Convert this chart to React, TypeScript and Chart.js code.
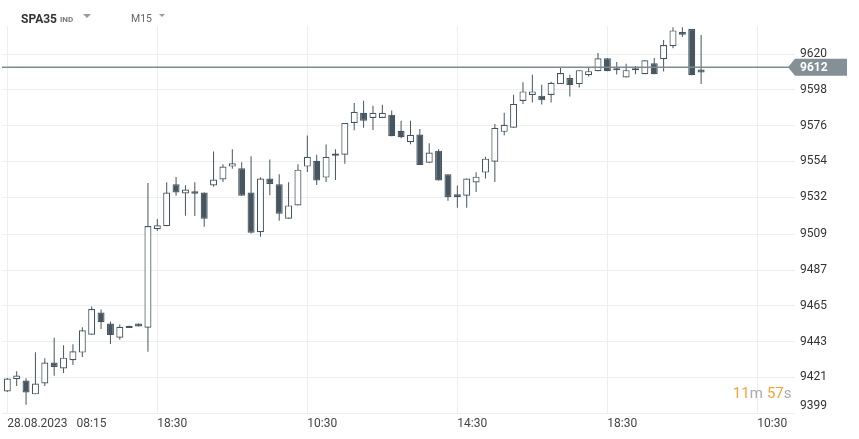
import React, { useEffect, useRef } from "react";
import { Chart, registerables } from "chart.js";

Chart.register(...registerables);

const symbol = "SPA35";
const symbolType = "IND";
const timeframe = "M15";
const countdownMin = "11";
const countdownSec = "57";

const xTickIndices = [0, 16, 32, 48, 64, 80];
const xTickLabels = ["28.08.2023   08:15", "18:30", "10:30", "14:30", "18:30", "10:30"];
const yTickLabels = ["9620", "9598", "9576", "9554", "9532", "9509", "9487", "9465", "9443", "9421", "9399"];

const lastPrice = 9612;

const opens = [
  9412.3, 9419.8, 9419.0, 9410.5, 9417.2, 9430.1, 9426.4, 9431.5, 9436.2, 9447.2,
  9460.9, 9454.1, 9445.4, 9452.7, 9454.1, 9451.5, 9512.2, 9514.0, 9539.9, 9534.2,
  9535.6, 9534.8, 9539.1, 9542.8, 9550.8, 9549.7, 9534.8, 9510.3, 9543.4, 9539.9,
  9518.7, 9526.9, 9550.8, 9554.4, 9544.0, 9558.9, 9558.1, 9577.7, 9583.9, 9580.8,
  9580.8, 9582.8, 9572.8, 9565.8, 9570.6, 9553.2, 9560.6, 9546.0, 9533.8, 9532.8,
  9541.0, 9547.1, 9553.8, 9572.2, 9574.7, 9591.2, 9594.9, 9594.5, 9594.9, 9601.6,
  9605.3, 9601.6, 9607.1, 9609.6, 9617.5, 9611.4, 9605.7, 9610.2, 9607.7, 9614.5,
  9616.9, 9624.9, 9633.7, 9635.5, 9610.6,
];
const highs = [
  9420.5, 9424.7, 9420.4, 9436.4, 9432.7, 9445.4, 9440.7, 9441.3, 9451.9, 9464.6,
  9462.7, 9455.4, 9453.5, 9452.7, 9454.1, 9540.7, 9518.5, 9541.1, 9544.4, 9539.3,
  9541.1, 9534.8, 9560.1, 9552.2, 9561.4, 9553.4, 9557.1, 9544.2, 9555.2, 9546.0,
  9541.1, 9552.2, 9569.9, 9558.1, 9564.4, 9561.4, 9577.7, 9590.0, 9591.4, 9588.3,
  9588.9, 9585.3, 9579.0, 9579.0, 9574.0, 9565.2, 9561.4, 9546.0, 9539.1, 9543.4,
  9547.3, 9556.9, 9577.1, 9583.9, 9595.1, 9602.8, 9607.3, 9601.2, 9603.0, 9612.2,
  9607.3, 9610.2, 9612.2, 9620.8, 9617.5, 9615.3, 9614.1, 9612.8, 9616.3, 9617.7,
  9628.8, 9636.7, 9636.7, 9635.5, 9631.8,
];
const lows = [
  9412.0, 9415.7, 9404.1, 9410.5, 9415.7, 9421.9, 9423.7, 9428.6, 9433.5, 9447.2,
  9450.7, 9441.5, 9444.2, 9451.3, 9452.3, 9436.8, 9511.3, 9514.0, 9532.8, 9520.5,
  9520.3, 9513.8, 9538.3, 9541.3, 9549.5, 9532.8, 9509.5, 9507.6, 9533.2, 9517.4,
  9518.7, 9526.9, 9547.5, 9539.5, 9541.3, 9542.6, 9552.6, 9573.2, 9574.7, 9573.4,
  9580.8, 9569.5, 9568.3, 9564.6, 9551.7, 9553.2, 9542.2, 9529.7, 9525.4, 9525.4,
  9535.2, 9543.4, 9541.3, 9570.1, 9574.7, 9589.4, 9590.3, 9589.1, 9590.3, 9601.6,
  9594.0, 9599.5, 9606.3, 9609.6, 9609.6, 9607.5, 9605.7, 9607.7, 9607.7, 9607.7,
  9609.3, 9623.7, 9630.6, 9607.1, 9601.6,
];
const closes = [
  9420.2, 9422.1, 9411.7, 9417.2, 9430.1, 9427.4, 9433.1, 9437.0, 9449.9, 9463.1,
  9454.9, 9447.0, 9452.1, 9451.3, 9452.3, 9514.2, 9514.6, 9534.8, 9534.8, 9536.7,
  9534.0, 9518.7, 9542.8, 9550.8, 9552.8, 9532.8, 9510.1, 9543.4, 9540.1, 9521.7,
  9526.9, 9548.9, 9556.9, 9542.2, 9556.9, 9557.5, 9577.7, 9584.5, 9579.0, 9583.9,
  9583.9, 9569.5, 9568.9, 9570.4, 9551.7, 9559.5, 9542.2, 9532.1, 9532.1, 9543.4,
  9544.6, 9555.7, 9574.7, 9576.5, 9589.4, 9597.1, 9597.1, 9591.6, 9602.4, 9608.4,
  9601.0, 9610.2, 9609.6, 9617.5, 9609.6, 9610.2, 9610.2, 9611.4, 9616.3, 9607.7,
  9625.7, 9634.7, 9632.0, 9607.1, 9608.7,
];

const DARK = "#46555f";
const GRID = "#eeeeee";
const X_MIN = -0.565;
const X_MAX = 83.48;
const Y_MIN = 9399;
const Y_MAX = 9637.4;

export default function App() {
  const ref = useRef<HTMLCanvasElement>(null);

  useEffect(() => {
    if (!ref.current) return;
    const bodies = opens.map((o, i) => ({ x: i, y: [o, closes[i]] }));
    const wicks = lows.map((l, i) => ({ x: i, y: [l, highs[i]] }));
    const bodyColors = opens.map((o, i) => (closes[i] >= o ? "#ffffff" : DARK));

    const badgePlugin = {
      id: "priceBadge",
      afterDraw(chart: any) {
        const { ctx, chartArea, scales } = chart;
        const y = scales.y.getPixelForValue(lastPrice);
        const tip = chartArea.right - 2;
        const right = chart.width - 12;
        ctx.save();
        ctx.fillStyle = "#858f96";
        ctx.beginPath();
        ctx.moveTo(tip, y);
        ctx.lineTo(tip + 7, y - 8.5);
        ctx.lineTo(right, y - 8.5);
        ctx.lineTo(right, y + 8.5);
        ctx.lineTo(tip + 7, y + 8.5);
        ctx.closePath();
        ctx.fill();
        ctx.fillStyle = "#ffffff";
        ctx.font = "bold 12px Roboto";
        ctx.textBaseline = "middle";
        ctx.textAlign = "left";
        ctx.fillText(String(lastPrice), chartArea.right + 10, y + 0.5);
        ctx.restore();
      },
    };

    const chart = new Chart(ref.current, {
      type: "bar",
      data: {
        datasets: [
          {
            type: "line",
            data: [
              { x: X_MIN, y: lastPrice },
              { x: X_MAX, y: lastPrice },
            ],
            borderColor: "#7f8a90",
            borderWidth: 1.5,
            pointRadius: 0,
            order: -1,
          } as any,
          {
            data: bodies as any,
            backgroundColor: bodyColors,
            borderColor: DARK,
            borderWidth: 1.2,
            borderSkipped: false,
            grouped: false,
            maxBarThickness: 7,
            barPercentage: 1,
            categoryPercentage: 1,
            inflateAmount: 0,
            order: 0,
          } as any,
          {
            data: wicks as any,
            backgroundColor: DARK,
            borderWidth: 0,
            grouped: false,
            maxBarThickness: 1,
            barPercentage: 1,
            categoryPercentage: 1,
            inflateAmount: 0,
            order: 1,
          } as any,
        ],
      },
      options: {
        animation: false,
        responsive: false,
        devicePixelRatio: 1,
        events: [],
        layout: { padding: { left: 2, top: 26, right: 0, bottom: 0 }, autoPadding: false } as any,
        plugins: { legend: { display: false }, tooltip: { enabled: false } },
        scales: {
          x: {
            type: "linear",
            min: X_MIN,
            max: X_MAX,
            offset: false,
            grid: { color: GRID, drawTicks: false, offset: false },
            border: { display: false },
            afterBuildTicks: (s: any) => {
              s.ticks = xTickIndices.map((v) => ({ value: v }));
            },
            afterFit: (s: any) => {
              s.height = 26;
            },
            ticks: {
              autoSkip: false,
              maxRotation: 0,
              align: "start",
              padding: 4,
              color: "#444",
              font: { size: 12, family: "Roboto" },
              callback: (_v: any, i: number) => xTickLabels[i],
            },
          } as any,
          y: {
            type: "linear",
            position: "right",
            min: Y_MIN,
            max: Y_MAX,
            grid: { color: GRID, tickLength: 5, tickColor: GRID },
            border: { display: false },
            afterBuildTicks: (s: any) => {
              s.ticks = yTickLabels.map((t) => ({ value: Number(t) }));
            },
            afterFit: (s: any) => {
              s.width = 69;
            },
            ticks: {
              padding: 5,
              color: "#333",
              font: { size: 12, family: "Roboto" },
              callback: (_v: any, i: number, ticks: any[]) =>
                i === ticks.length - 1 ? [yTickLabels[i], ""] : yTickLabels[i],
            },
          } as any,
        },
      },
      plugins: [badgePlugin],
    });
    return () => chart.destroy();
  }, []);

  return (
    <div
      style={{
        position: "absolute",
        left: 0,
        top: 0,
        width: 859,
        height: 439,
        fontFamily: "Roboto",
        background: "#fff",
        overflow: "hidden",
      }}
    >
      <canvas ref={ref} width={859} height={439} style={{ display: "block" }} />
      <div style={{ position: "absolute", left: 21, top: 12.5, font: "bold 12px/12px Roboto", color: "#333", whiteSpace: "nowrap" }}>
        {symbol}
      </div>
      <div style={{ position: "absolute", left: 60, top: 16, font: "bold 8px/8px Roboto", color: "#777" }}>{symbolType}</div>
      <div
        style={{
          position: "absolute",
          left: 83,
          top: 13.5,
          width: 0,
          height: 0,
          borderLeft: "4px solid transparent",
          borderRight: "4px solid transparent",
          borderTop: "4px solid #999",
        }}
      />
      <div style={{ position: "absolute", left: 131, top: 14, font: "10.5px/10.5px Roboto", color: "#666" }}>{timeframe}</div>
      <div
        style={{
          position: "absolute",
          left: 158.5,
          top: 14,
          width: 0,
          height: 0,
          borderLeft: "3.5px solid transparent",
          borderRight: "3.5px solid transparent",
          borderTop: "3.5px solid #999",
        }}
      />
      <div style={{ position: "absolute", right: 67.5, top: 386, font: "15px/15px Roboto", whiteSpace: "nowrap" }}>
        <span style={{ color: "#f7a23b" }}>{countdownMin}</span>
        <span style={{ color: "#aaa" }}>m</span>
        <span style={{ color: "#f7a23b", marginLeft: 4 }}>{countdownSec}</span>
        <span style={{ color: "#aaa" }}>s</span>
      </div>
    </div>
  );
}
